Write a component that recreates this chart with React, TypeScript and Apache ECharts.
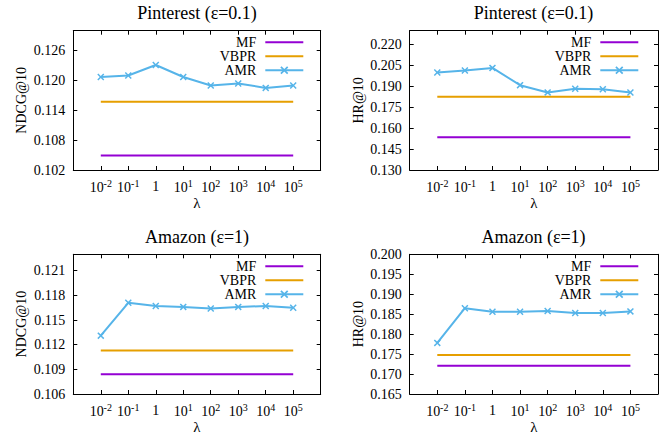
import React, { useEffect, useRef } from 'react';
import * as echarts from 'echarts';

// ---------- data ----------
const lambdaLabels = ['10^-2', '10^-1', '1', '10^1', '10^2', '10^3', '10^4', '10^5'];
const methodNames = ['MF', 'VBPR', 'AMR'];
const methodColors = ['#9400D3', '#E69F00', '#56B4E9'];

// Pinterest (eps=0.1), NDCG@10
const pinNdcgMF = [0.1049, 0.1049, 0.1049, 0.1049, 0.1049, 0.1049, 0.1049, 0.1049];
const pinNdcgVBPR = [0.1157, 0.1157, 0.1157, 0.1157, 0.1157, 0.1157, 0.1157, 0.1157];
const pinNdcgAMR = [0.1207, 0.1210, 0.1231, 0.1207, 0.1190, 0.1194, 0.1185, 0.1190];

// Pinterest (eps=0.1), HR@10
const pinHrMF = [0.1536, 0.1536, 0.1536, 0.1536, 0.1536, 0.1536, 0.1536, 0.1536];
const pinHrVBPR = [0.1826, 0.1826, 0.1826, 0.1826, 0.1826, 0.1826, 0.1826, 0.1826];
const pinHrAMR = [0.2000, 0.2014, 0.2033, 0.1909, 0.1857, 0.1883, 0.1880, 0.1856];

// Amazon (eps=1), NDCG@10
const amzNdcgMF = [0.1084, 0.1084, 0.1084, 0.1084, 0.1084, 0.1084, 0.1084, 0.1084];
const amzNdcgVBPR = [0.1113, 0.1113, 0.1113, 0.1113, 0.1113, 0.1113, 0.1113, 0.1113];
const amzNdcgAMR = [0.1131, 0.1171, 0.1167, 0.1166, 0.1164, 0.1166, 0.1167, 0.1165];

// Amazon (eps=1), HR@10
const amzHrMF = [0.1721, 0.1721, 0.1721, 0.1721, 0.1721, 0.1721, 0.1721, 0.1721];
const amzHrVBPR = [0.1748, 0.1748, 0.1748, 0.1748, 0.1748, 0.1748, 0.1748, 0.1748];
const amzHrAMR = [0.1778, 0.1865, 0.1856, 0.1856, 0.1858, 0.1853, 0.1853, 0.1857];

// tick values
const pinNdcgTicks = [0.102, 0.108, 0.114, 0.120, 0.126];
const pinHrTicks = [0.130, 0.145, 0.160, 0.175, 0.190, 0.205, 0.220];
const amzNdcgTicks = [0.106, 0.109, 0.112, 0.115, 0.118, 0.121];
const amzHrTicks = [0.165, 0.170, 0.175, 0.180, 0.185, 0.190, 0.195, 0.200];

const titles = ['Pinterest (ε=0.1)', 'Pinterest (ε=0.1)', 'Amazon (ε=1)', 'Amazon (ε=1)'];
const yNames = ['NDCG@10', 'HR@10', 'NDCG@10', 'HR@10'];
const xName = 'λ';

const FONT = '"Liberation Serif", "Times New Roman", serif';

const panels = [
  { series: [pinNdcgMF, pinNdcgVBPR, pinNdcgAMR], ticks: pinNdcgTicks, min: 0.102, max: 0.130, step: 0.006,
    grid: { left: 73.3, top: 30.7, width: 247.4, height: 139.3 }, title: { x: 197, y: 13 }, legend: { right: 362.7, top: 35.3 } },
  { series: [pinHrMF, pinHrVBPR, pinHrAMR], ticks: pinHrTicks, min: 0.130, max: 0.230, step: 0.015,
    grid: { left: 409.7, top: 30.7, width: 248.3, height: 139.3 }, title: { x: 533.5, y: 13 }, legend: { right: 27.7, top: 35.3 } },
  { series: [amzNdcgMF, amzNdcgVBPR, amzNdcgAMR], ticks: amzNdcgTicks, min: 0.106, max: 0.123, step: 0.003,
    grid: { left: 73.3, top: 254.3, width: 247.4, height: 139.7 }, title: { x: 197, y: 237.3 }, legend: { right: 362.7, top: 259.3 } },
  { series: [amzHrMF, amzHrVBPR, amzHrAMR], ticks: amzHrTicks, min: 0.165, max: 0.200, step: 0.005,
    grid: { left: 409.7, top: 254.3, width: 248.3, height: 139.7 }, title: { x: 533.5, y: 237.3 }, legend: { right: 27.7, top: 259.3 } },
];

const xTickIdx = lambdaLabels.map((_, i) => i);
const crossSymbol = 'path://M0,1.5 L1.5,0 L5,3.5 L8.5,0 L10,1.5 L6.5,5 L10,8.5 L8.5,10 L5,6.5 L1.5,10 L0,8.5 L3.5,5 Z';

function xLabel(v: number): string {
  const s = lambdaLabels[Math.round(v)];
  if (s === undefined) return '';
  if (s.indexOf('^') >= 0) {
    const [b, e] = s.split('^');
    return `{b|${b}}{s|${e}}`;
  }
  return `{o|${s}}`;
}

const mkLine = () => ({ show: true, onZero: false, lineStyle: { color: '#000', width: 1 } });

export default function App() {
  const ref = useRef<HTMLDivElement>(null);
  useEffect(() => {
    if (!ref.current) return;
    const chart = echarts.init(ref.current, undefined, { renderer: 'svg' });

    const grids = panels.map((p) => ({
      left: p.grid.left, top: p.grid.top, width: p.grid.width, height: p.grid.height,
    }));

    const xMain = panels.map((p, i) => ({
      type: 'value', gridIndex: i, min: -1, max: 8,
      axisLine: mkLine(), splitLine: { show: false },
      axisTick: { show: true, inside: true, length: 4, customValues: xTickIdx.slice(), lineStyle: { color: '#000' } },
      axisLabel: {
        customValues: xTickIdx.slice(), formatter: xLabel, fontFamily: FONT, color: '#000',
        rich: {
          b: { fontFamily: FONT, fontSize: 14, lineHeight: 19 },
          s: { fontSize: 10, lineHeight: 10, verticalAlign: 'top' },
          o: { fontSize: 14, lineHeight: 17 },
        },
      },
    }));
    const xTop = panels.map((p, i) => ({
      type: 'value', gridIndex: i, position: 'top', min: -1, max: 8, interval: 1,
      axisLine: mkLine(), splitLine: { show: false },
      axisTick: { show: true, inside: true, length: 4 },
      axisLabel: { show: false },
    }));
    const yMain = panels.map((p, i) => ({
      type: 'value', gridIndex: i, min: p.min, max: p.max,
      axisLine: mkLine(), splitLine: { show: false },
      axisTick: { show: true, inside: true, length: 4, customValues: p.ticks.slice(), lineStyle: { color: '#000' } },
      axisLabel: {
        customValues: p.ticks.slice(),
        formatter: (v: number) => v.toFixed(3),
        fontFamily: FONT, fontSize: 14, color: '#000',
      },
    }));
    const yRight = panels.map((p, i) => ({
      type: 'value', gridIndex: i, position: 'right', min: 0, max: p.max - p.min, interval: p.step,
      axisLine: mkLine(), splitLine: { show: false },
      axisTick: { show: true, inside: true, length: 4 },
      axisLabel: { show: false },
    }));

    const series: any[] = [];
    panels.forEach((p, pi) => {
      p.series.forEach((vals, mi) => {
        const isAMR = methodNames[mi] === 'AMR';
        series.push({
          name: methodNames[mi],
          type: 'line',
          xAxisIndex: pi,
          yAxisIndex: pi,
          data: vals.map((v, i) => [i, v]),
          symbol: isAMR ? crossSymbol : 'none',
          symbolSize: 7,
          showSymbol: isAMR,
          lineStyle: { color: methodColors[mi], width: 2 },
          itemStyle: { color: methodColors[mi] },
        });
      });
    });

    const legends = panels.map((p) => ({
      orient: 'vertical', right: p.legend.right, top: p.legend.top, align: 'right',
      padding: 0, itemWidth: 38, itemHeight: 10, itemGap: 0, selectedMode: false,
      data: methodNames.map((n) => (n === 'AMR' ? { name: n } : { name: n, itemStyle: { opacity: 0 } })),
      textStyle: { fontFamily: FONT, fontSize: 14, lineHeight: 14, color: '#000', padding: [0, 4, 0, 0] },
    }));

    const graphic: any[] = [];
    panels.forEach((p, i) => {
      const g = p.grid;
      graphic.push({
        type: 'text', x: p.title.x, y: p.title.y,
        style: { text: titles[i], fontFamily: FONT, fontSize: 18, fill: '#000', align: 'center', verticalAlign: 'middle' },
      });
      graphic.push({
        type: 'text', x: g.left + g.width / 2, y: g.top + g.height + 33,
        style: { text: xName, fontFamily: FONT, fontSize: 15, fill: '#000', align: 'center', verticalAlign: 'middle' },
      });
      graphic.push({
        type: 'text', x: g.left - 51.6, y: g.top + g.height / 2, rotation: Math.PI / 2,
        style: { text: yNames[i], fontFamily: FONT, fontSize: 14, fill: '#000', align: 'center', verticalAlign: 'middle' },
      });
    });

    chart.setOption({
      animation: false,
      grid: grids,
      xAxis: [...xMain, ...xTop],
      yAxis: [...yMain, ...yRight],
      legend: legends,
      series,
      graphic,
    });
    return () => chart.dispose();
  }, []);
  return <div ref={ref} style={{ position: 'fixed', left: 0, top: 0, width: 667, height: 438, background: '#fff' }} />;
}
